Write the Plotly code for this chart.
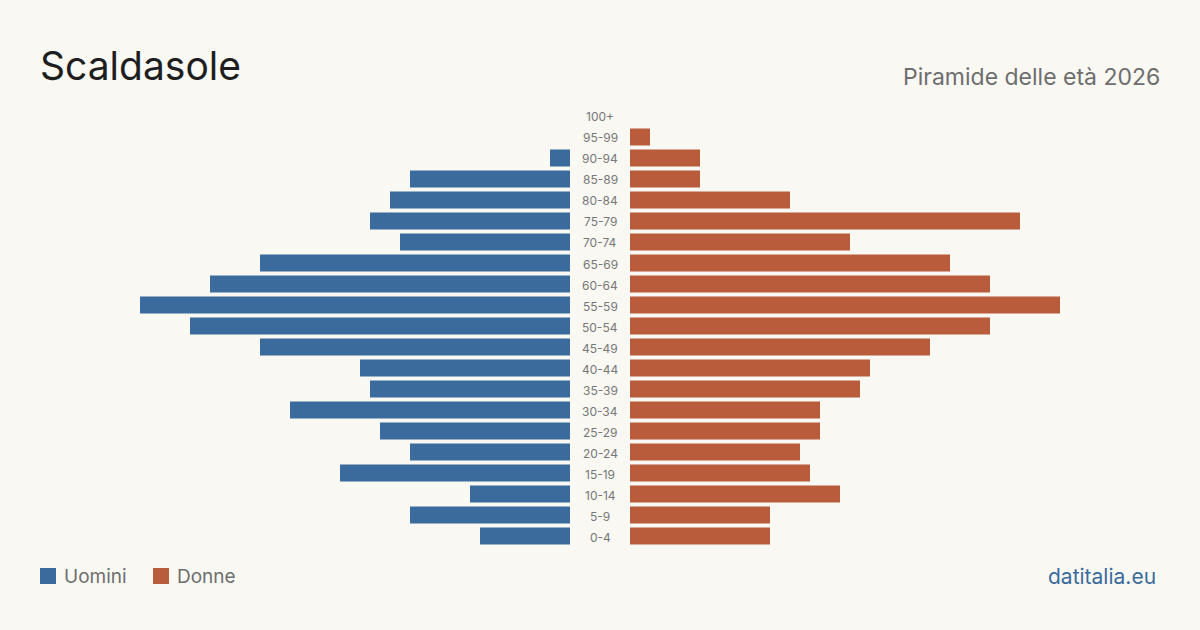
import plotly.graph_objects as go

age_groups = ["0-4", "5-9", "10-14", "15-19", "20-24", "25-29", "30-34", "35-39",
              "40-44", "45-49", "50-54", "55-59", "60-64", "65-69", "70-74",
              "75-79", "80-84", "85-89", "90-94", "95-99", "100+"]
men = [9, 16, 10, 23, 16, 19, 28, 20, 21, 31, 38, 43, 36, 31, 17, 20, 18, 16, 2, 0, 0]
women = [14, 14, 21, 18, 17, 19, 19, 23, 24, 30, 36, 43, 36, 32, 22, 39, 16, 7, 7, 2, 0]

title = "Scaldasole"
subtitle = "Piramide delle età 2026"
source = "datitalia.eu"

BLUE = "#3a6b9c"
ORANGE = "#b95c3c"
BG = "#f9f8f3"
FONT = "Inter"

W, H = 1200, 630
fig = go.Figure()
fig.add_trace(go.Bar(y=age_groups, x=men, orientation="h", name="Uomini",
                     marker=dict(color=BLUE, line=dict(width=0)),
                     xaxis="x", yaxis="y", showlegend=False,
                     hovertemplate="%{y}: %{x}<extra>Uomini</extra>"))
fig.add_trace(go.Bar(y=age_groups, x=women, orientation="h", name="Donne",
                     marker=dict(color=ORANGE, line=dict(width=0)),
                     xaxis="x2", yaxis="y2", showlegend=False,
                     hovertemplate="%{y}: %{x}<extra>Donne</extra>"))

y_bottom = 546.5
y_top = 105.5
ydom = [(H - y_bottom) / H, (H - y_top) / H]
axis_common = dict(showgrid=False, zeroline=False, showticklabels=False,
                   showline=False, ticks="", fixedrange=True)
fig.update_layout(
    width=W, height=H,
    margin=dict(l=0, r=0, t=0, b=0),
    paper_bgcolor=BG, plot_bgcolor=BG,
    bargap=4 / 21,
    font=dict(family=FONT),
    xaxis=dict(domain=[40 / W, 570 / W], range=[53, 0], **axis_common),
    xaxis2=dict(domain=[630 / W, 1160 / W], range=[0, 53], **axis_common),
    yaxis=dict(domain=ydom, range=[-0.5, 20.5], type="category",
               categoryorder="array", categoryarray=age_groups, **axis_common),
    yaxis2=dict(domain=ydom, range=[-0.5, 20.5], type="category", anchor="x2",
                categoryorder="array", categoryarray=age_groups, **axis_common),
)

annotations = []
for g in age_groups:
    annotations.append(dict(x=0.5, xref="paper", y=g, yref="y", text=g,
                            showarrow=False, xanchor="center", yanchor="middle",
                            yshift=-1,
                            font=dict(size=12, color="#777777", family=FONT)))
annotations += [
    dict(x=40 / W, y=(H - 66) / H, xref="paper", yref="paper", text=title,
         showarrow=False, xanchor="left", yanchor="middle", xshift=-2,
         font=dict(size=39, color="#1e1e1e", family=FONT)),
    dict(x=1160 / W, y=(H - 77) / H, xref="paper", yref="paper", text=subtitle,
         showarrow=False, xanchor="right", yanchor="middle", xshift=2,
         font=dict(size=23, color="#6e6e6e", family=FONT)),
    dict(x=64 / W, y=(H - 576) / H, xref="paper", yref="paper", text="Uomini",
         showarrow=False, xanchor="left", yanchor="middle", xshift=-2,
         font=dict(size=19, color="#6e6e6e", family=FONT)),
    dict(x=177 / W, y=(H - 576) / H, xref="paper", yref="paper", text="Donne",
         showarrow=False, xanchor="left", yanchor="middle", xshift=-2,
         font=dict(size=19, color="#6e6e6e", family=FONT)),
    dict(x=1156 / W, y=(H - 576) / H, xref="paper", yref="paper", text=source,
         showarrow=False, xanchor="right", yanchor="middle", xshift=2,
         font=dict(size=21, color=BLUE, family=FONT)),
]
fig.update_layout(annotations=annotations)

shapes = [
    dict(type="rect", xref="paper", yref="paper",
         x0=40 / W, x1=56 / W, y0=(H - 584) / H, y1=(H - 568) / H,
         fillcolor=BLUE, line=dict(width=0)),
    dict(type="rect", xref="paper", yref="paper",
         x0=153 / W, x1=169 / W, y0=(H - 584) / H, y1=(H - 568) / H,
         fillcolor=ORANGE, line=dict(width=0)),
]
fig.update_layout(shapes=shapes)

fig.write_html("out.html", config={"displayModeBar": False})
